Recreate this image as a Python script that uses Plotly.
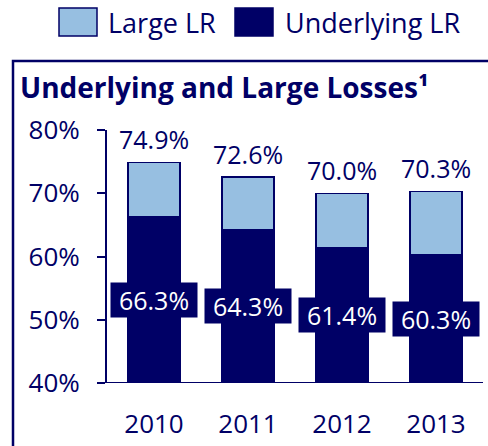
import plotly.graph_objects as go

years = ["2010", "2011", "2012", "2013"]
total_lr = [74.9, 72.6, 70.0, 70.3]
underlying_lr = [66.3, 64.3, 61.4, 60.3]
large_lr = [round(t - u, 1) for t, u in zip(total_lr, underlying_lr)]
y_ticks = [40, 50, 60, 70, 80]
y_tick_labels = ["40%", "50%", "60%", "70%", "80%"]

NAVY = "#000066"
LIGHT = "#97BFE1"
FONT = "Open Sans"

W, H = 488, 446
ML, MR, MT, MB = 107, 5, 130, 63
PW, PH = W - ML - MR, H - MT - MB


def px_x(px):
    return (px - ML) / PW


def px_y(py):
    return (H - MB - py) / PH


fig = go.Figure()
fig.add_trace(go.Bar(x=years, y=underlying_lr, name="Underlying LR",
                     marker=dict(color=NAVY, line=dict(color=NAVY, width=1.5)),
                     width=0.55))
fig.add_trace(go.Bar(x=years, y=large_lr, name="Large LR",
                     marker=dict(color=LIGHT, line=dict(color=NAVY, width=1.5)),
                     width=0.55))

annotations = []
for i, t in enumerate(total_lr):
    annotations.append(dict(x=i, y=t, xref="x", yref="y", text=f"{t:.1f}%",
                            showarrow=False, yanchor="bottom", yshift=4,
                            font=dict(family=FONT, size=25, color=NAVY)))
for i, u in enumerate(underlying_lr):
    annotations.append(dict(x=i, y=(40 + u) / 2, xref="x", yref="y", text=f"{u:.1f}%",
                            showarrow=False, yanchor="middle",
                            bgcolor=NAVY, borderpad=2, width=82, height=30,
                            font=dict(family=FONT, size=25, color="white")))

# legend text
annotations.append(dict(x=px_x(106), y=px_y(22), xref="paper", yref="paper", text="Large LR",
                        showarrow=False, xanchor="left", yanchor="middle",
                        font=dict(family=FONT, size=27, color=NAVY)))
annotations.append(dict(x=px_x(283), y=px_y(22), xref="paper", yref="paper", text="Underlying LR",
                        showarrow=False, xanchor="left", yanchor="middle",
                        font=dict(family=FONT, size=27, color=NAVY)))

shapes = [
    # frame
    dict(type="rect", xref="paper", yref="paper", x0=px_x(13), x1=px_x(500),
         y0=px_y(470), y1=px_y(61), line=dict(color=NAVY, width=2.5), fillcolor="rgba(0,0,0,0)"),
    # legend swatches
    dict(type="rect", xref="paper", yref="paper", x0=px_x(59), x1=px_x(97),
         y0=px_y(36), y1=px_y(8), line=dict(color=NAVY, width=1.5), fillcolor=LIGHT),
    dict(type="rect", xref="paper", yref="paper", x0=px_x(235), x1=px_x(273),
         y0=px_y(36), y1=px_y(8), line=dict(color=NAVY, width=1.5), fillcolor=NAVY),
    # x-axis baseline
    dict(type="line", xref="paper", yref="y", x0=0, x1=1, y0=40, y1=40,
         line=dict(color=NAVY, width=2)),
]

fig.update_layout(
    width=W, height=H,
    margin=dict(l=ML, r=MR, t=MT, b=MB, autoexpand=False),
    barmode="stack",
    showlegend=False,
    plot_bgcolor="white", paper_bgcolor="white",
    font=dict(family=FONT, size=26, color=NAVY),
    title=dict(text="<b>Underlying and Large Losses¹</b>", xref="container", yref="container",
               x=20 / W, xanchor="left", y=1 - 88 / H, yanchor="middle",
               font=dict(family=FONT, size=28, color=NAVY)),
    annotations=annotations,
    shapes=shapes,
    xaxis=dict(type="category", showline=False, ticks="", showgrid=False, ticklabelstandoff=23,
               automargin=False,
               tickfont=dict(family=FONT, size=26, color=NAVY), range=[-0.5, 3.5]),
    yaxis=dict(range=[40, 80], tickvals=y_ticks, ticktext=y_tick_labels,
               showline=True, linecolor=NAVY, linewidth=2, automargin=False,
               ticks="outside", ticklen=8, tickcolor=NAVY, tickwidth=2,
               showgrid=False, zeroline=False, ticklabelstandoff=12,
               tickfont=dict(family=FONT, size=26, color=NAVY)),
)

fig.write_html("out.html", config={"displayModeBar": False},
               post_script="document.body.style.margin='0';")
